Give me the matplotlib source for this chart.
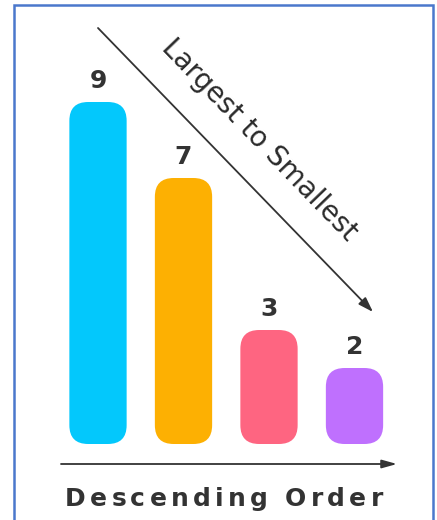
import numpy as np
import matplotlib
matplotlib.use("Agg")
from matplotlib import pyplot as plt
from matplotlib.patches import FancyBboxPatch, Rectangle

# data
values = [9, 7, 3, 2]
colors = ["#03C8FC", "#FDB002", "#FE6581", "#BF70FE"]
title_diag = "Largest to Smallest"
title_bottom = "Descending Order"

W, H = 437, 520
fig = plt.figure(figsize=(W / 100, H / 100), dpi=100)
fig.patch.set_facecolor("white")

# axes covering whole figure; bar i centred at px 98 + 85.5*i, zero line at px 444
xpx, ypx = 85.5, 38.0
ax = fig.add_axes([0, 0, 1, 1])
ax.set_xlim(-98 / xpx, (W - 98) / xpx)
ax.set_ylim(-(H - 444) / ypx, 444 / ypx)
ax.axis("off")

bw = 0.67
aspect = xpx / ypx
for i, (v, c) in enumerate(zip(values, colors)):
    box = FancyBboxPatch((i - bw / 2, 0), bw, v,
                         boxstyle="round,pad=0,rounding_size=0.22",
                         mutation_aspect=aspect, fc=c, ec="none")
    ax.add_patch(box)
    ax.annotate(str(v), (i, v), xytext=(0, 21), textcoords="offset pixels",
                ha="center", va="center", fontsize=18, color="#333333",
                family="DejaVu Sans", fontweight="bold")

# arrows (figure pixel coords, origin bottom-left)
ink = "#333333"
fig_ann = dict(xycoords="figure pixels", textcoords="figure pixels")
ax.annotate("", xy=(373, H - 312), xytext=(98, H - 28),
            arrowprops=dict(arrowstyle="-|>,head_length=0.9,head_width=0.3",
                            color=ink, lw=1.3, shrinkA=0, shrinkB=0), **fig_ann)
ax.annotate("", xy=(397, H - 464), xytext=(61, H - 464),
            arrowprops=dict(arrowstyle="-|>,head_length=0.9,head_width=0.25",
                            color=ink, lw=1.3, shrinkA=0, shrinkB=0), **fig_ann)

fig.text(259 / W, 1 - 140 / H, title_diag, rotation=-46, rotation_mode="anchor",
         ha="center", va="center", fontsize=20, color="#2a2a2a",
         family="DejaVu Sans")


def spaced_text(x0, x1, y_px, s, word_gap, **kw):
    # letter-spaced text stretched between pixel x0 and x1
    r = fig.canvas.get_renderer()
    widths = []
    for ch in s:
        if ch == " ":
            widths.append(word_gap)
            continue
        t = fig.text(0, 0, ch, **kw)
        widths.append(t.get_window_extent(r).width)
        t.remove()
    gap = (x1 - x0 - sum(widths)) / (len(s) - 1)
    x = x0
    for ch, w in zip(s, widths):
        if ch != " ":
            fig.text(x / W, 1 - y_px / H, ch, ha="left", va="baseline", **kw)
        x += w + gap


spaced_text(65, 383, 506, title_bottom, 8, fontsize=18, color="#333333",
            family="DejaVu Sans", fontweight="bold")

# frame
fig.add_artist(Rectangle((14 / W, -0.05), 419 / W, 1.05 - 5 / H,
                         transform=fig.transFigure, fill=False,
                         ec="#4A78CC", lw=1.8))

fig.savefig("out.png", dpi=100)
